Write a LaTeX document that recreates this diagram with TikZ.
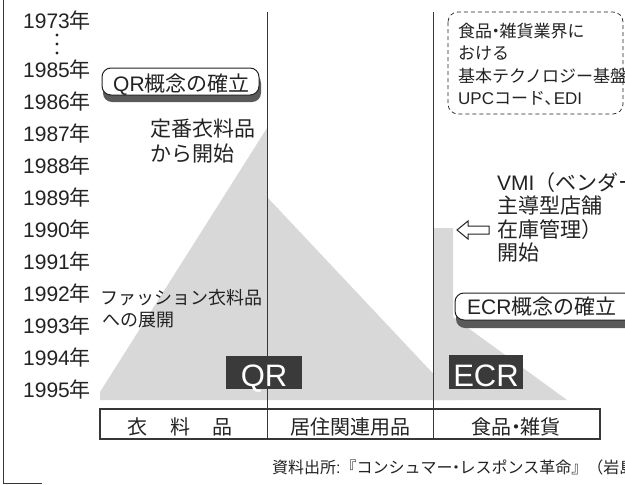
\documentclass[tikz,border=0pt]{standalone}
\usepackage{fontspec}
\setmainfont{Noto Sans CJK JP}
\newfontfamily\latf{Liberation Sans}
\definecolor{ink}{RGB}{35,35,35}
\definecolor{gfill}{RGB}{216,216,216}
\definecolor{darkfill}{RGB}{58,58,58}
\definecolor{shadowc}{RGB}{90,90,90}
\definecolor{linec}{RGB}{55,55,55}
\newcommand\ndot{\hspace{-.28em}・\hspace{-.28em}}
\newcommand\ncomma{、\hspace{-.45em}}
\tikzset{
  yr/.style={anchor=base west, inner sep=0pt, text=ink, font=\fontsize{21}{24}\selectfont},
  lab/.style={anchor=base west, inner sep=0pt, text=ink, font=\fontsize{21}{24}\selectfont},
  smalllab/.style={anchor=base west, inner sep=0pt, text=ink, font=\fontsize{18}{21}\selectfont},
  dlab/.style={anchor=base west, inner sep=0pt, text=ink, font=\fontsize{17}{20}\selectfont},
  cat/.style={anchor=base, inner sep=0pt, text=ink, font=\fontsize{20}{23}\selectfont},
  captxt/.style={anchor=base west, inner sep=0pt, text=ink, font=\fontsize{16}{18}\selectfont},
  bigw/.style={anchor=base, inner sep=0pt, text=white, font=\latf\fontsize{31}{34}\selectfont},
  darkbox/.style={rectangle, fill=darkfill, inner sep=0pt},
  divline/.style={draw=linec, line width=0.9pt},
  barline/.style={draw=linec, line width=2pt},
  conceptbox/.style={draw=ink, fill=white, line width=1pt, rounded corners=9pt},
  conceptshadow/.style={fill=shadowc, rounded corners=9pt},
  dashbox/.style={draw=ink, line width=0.7pt, dash pattern=on 4pt off 3pt, rounded corners=10pt},
  hollowarrow/.style={draw=ink, line width=1pt, line join=miter},
}
\begin{document}
\begin{tikzpicture}[x=1pt,y=-1pt]
\useasboundingbox (0,0) rectangle (625,485);
\clip (0,0) rectangle (625,485);
\fill[white] (0,0) rectangle (625,485);

% gray areas
\fill[gfill] (100,400) -- (100,392) -- (267,128) -- (267,400) -- cycle;
\fill[gfill] (267,197) -- (458,400) -- (267,400) -- cycle;
\fill[gfill] (433,228) -- (453,228) -- (453,317) -- (567,400) -- (433,400) -- cycle;

% left frame
\coordinate (ft) at (3.5,0);
\coordinate (fb) at (3.5,483);
\coordinate (fr) at (42,483);
\draw[draw=linec, line width=1pt] (ft) -- (fb) -- (fr);

% column dividers
\coordinate (d1t) at (267,12);
\coordinate (d1b) at (267,439);
\coordinate (d2t) at (433,12);
\coordinate (d2b) at (433,439);
\draw[divline] (d1t) -- (d1b);
\draw[divline] (d2t) -- (d2b);

% category bar
\draw[barline] (100,409) rectangle (600,439);
\node[cat] (c1) at (180,434) {衣\hspace{23pt}料\hspace{23pt}品};
\node[cat] (c2) at (350,434) {居住関連用品};
\node[cat] (c3) at (516,434) {食品\ndot 雑貨};

% years
\node[yr] (y73) at (23,28) {{\latf 1973}年};
\fill[ink] (57,35) circle (1.6pt);
\fill[ink] (57,44) circle (1.6pt);
\fill[ink] (57,53) circle (1.6pt);
\node[yr] (y85) at (23,77) {{\latf 1985}年};
\node[yr] (y86) at (23,109) {{\latf 1986}年};
\node[yr] (y87) at (23,141) {{\latf 1987}年};
\node[yr] (y88) at (23,173) {{\latf 1988}年};
\node[yr] (y89) at (23,205) {{\latf 1989}年};
\node[yr] (y90) at (23,237) {{\latf 1990}年};
\node[yr] (y91) at (23,269) {{\latf 1991}年};
\node[yr] (y92) at (23,301) {{\latf 1992}年};
\node[yr] (y93) at (23,333) {{\latf 1993}年};
\node[yr] (y94) at (23,365) {{\latf 1994}年};
\node[yr] (y95) at (23,397) {{\latf 1995}年};

% QR concept box
\fill[conceptshadow] (103,74) rectangle (261,102);
\draw[conceptbox] (102,68) rectangle (259,95);
\node[lab] (qrc) at (113,91) {{\latf QR}概念の確立};

% QR notes
\node[lab] (n1a) at (150,136.5) {定番衣料品};
\node[lab] (n1b) at (150,161) {から開始};
\node[smalllab] (n2a) at (100,304) {ファッション衣料品};
\node[smalllab] (n2b) at (102,326) {への展開};

% dark labels
\node[darkbox, minimum width=76pt, minimum height=33pt] (qrbox) at (264,372.5) {};
\node[bigw] (qrt) at (264,386) {QR};
\node[darkbox, minimum width=74pt, minimum height=34pt] (ecrbox) at (486,372) {};
\node[bigw] (ecrt) at (486,386) {ECR};

% dashed box
\draw[dashbox] (448,12) rectangle (623,114);
\node[dlab] (d1) at (458,37) {食品\ndot 雑貨業界に};
\node[dlab] (d2) at (458,59) {おける};
\node[dlab] (d3) at (458,82) {基本テクノロジー基盤};
\node[dlab] (d4) at (458,104) {{\latf UPC}コード\ncomma{\latf EDI}};

% VMI
\node[lab] (v1) at (497,190) {{\latf VMI}（ベンダー};
\node[lab] (v2) at (497,213.5) {主導型店舗};
\node[lab] (v3) at (497,237) {在庫管理）};
\node[lab] (v4) at (497,260.5) {開始};
\draw[hollowarrow] (457,230) -- (468,221) -- (468,226) -- (489,226) -- (489,234) -- (468,234) -- (468,239) -- cycle;

% ECR concept box
\fill[conceptshadow] (456,299) rectangle (642,328);
\draw[conceptbox] (455,293) rectangle (640,320);
\node[lab] (ecrc) at (467,314) {{\latf ECR}概念の確立};

% caption
\node[captxt] (cap) at (272,473.5) {資料出所{\latf :}『コンシュマー\ndot レスポンス革命』（岩島};
\end{tikzpicture}
\end{document}
